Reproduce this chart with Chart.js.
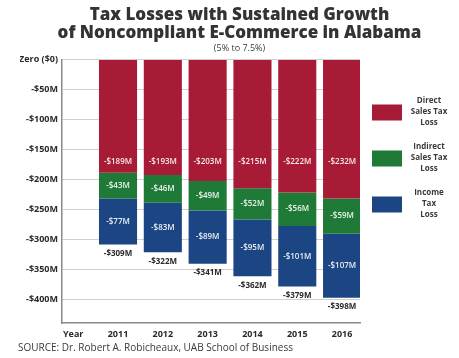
<!DOCTYPE html>
<html>
<head>
<meta charset="utf-8">
<script src="https://cdn.jsdelivr.net/npm/chart.js@4.4.1/dist/chart.umd.min.js"></script>
<style>
  html, body { margin: 0; padding: 0; background: #fff; }
  #wrap { width: 459px; height: 358px; }
</style>
</head>
<body>
<div id="wrap"><canvas id="taxChart"></canvas></div>
<script>
const years = [2011, 2012, 2013, 2014, 2015, 2016];
const directSales = [-189, -193, -203, -215, -222, -232];
const indirectSales = [-43, -46, -49, -52, -56, -59];
const incomeTax = [-77, -83, -89, -95, -101, -107];
const totals = [-309, -322, -341, -362, -379, -398];
const yTicks = [0, -50, -100, -150, -200, -250, -300, -350, -400];
const xTicks = [2010, 2011, 2012, 2013, 2014, 2015, 2016];

const legendText = [
  ['Direct', 'Sales Tax', 'Loss'],
  ['Indirect', 'Sales Tax', 'Loss'],
  ['Income', 'Tax', 'Loss'],
];

const FONT = "'Open Sans', 'DejaVu Sans', sans-serif";

function money(v) {
  return v === 0 ? 'Zero ($0)' : '-$' + Math.abs(v) + 'M';
}

function toPoints(values) {
  return years.map((yr, i) => ({ x: yr, y: values[i] }));
}

// value labels inside bars, totals under bars, legend and source line
const labelPlugin = {
  id: 'labelPlugin',
  afterDatasetsDraw(chart) {
    const ctx = chart.ctx;
    const yScale = chart.scales.y;
    ctx.save();
    ctx.textAlign = 'center';
    ctx.textBaseline = 'middle';
    chart.data.datasets.forEach((ds, i) => {
      const meta = chart.getDatasetMeta(i);
      meta.data.forEach((bar, j) => {
        const top = Math.min(bar.y, bar.base);
        const bottom = Math.max(bar.y, bar.base);
        let y = (top + bottom) / 2;
        // direct sales labels sit on one line in the original
        if (i === 0) y = Math.min(bottom - 11, yScale.getPixelForValue(-170));
        ctx.font = '600 8px ' + FONT;
        ctx.fillStyle = 'rgba(255,255,255,0.9)';
        ctx.fillText(money(ds.data[j].y), bar.x, y);
      });
    });
    const last = chart.getDatasetMeta(chart.data.datasets.length - 1);
    last.data.forEach((bar, j) => {
      ctx.font = 'bold 8px ' + FONT;
      ctx.fillStyle = '#2a2a2a';
      ctx.fillText(money(totals[j]), bar.x, Math.max(bar.y, bar.base) + 9);
    });
    ctx.restore();
  },
  afterDraw(chart) {
    const ctx = chart.ctx;
    const area = chart.chartArea;
    ctx.save();
    chart.data.datasets.forEach((ds, i) => {
      const cy = area.top + 53 + i * 46;
      ctx.fillStyle = ds.backgroundColor;
      ctx.fillRect(area.right + 12, cy - 8, 30, 16);
      ctx.font = 'bold 8px ' + FONT;
      ctx.fillStyle = '#3a3a3a';
      ctx.textAlign = 'center';
      ctx.textBaseline = 'middle';
      legendText[i].forEach((line, k) => {
        ctx.fillText(line, area.right + 69, cy - 12 + k * 11);
      });
    });
    ctx.font = '10px ' + FONT;
    ctx.fillStyle = '#3a3a3a';
    ctx.textAlign = 'left';
    ctx.textBaseline = 'middle';
    ctx.fillText('SOURCE: Dr. Robert A. Robicheaux, UAB School of Business', 18, 348);
    ctx.restore();
  }
};

new Chart(document.getElementById('taxChart'), {
  type: 'bar',
  data: {
    datasets: [
      { label: 'Direct Sales Tax Loss', data: toPoints(directSales), backgroundColor: '#a81b36' },
      { label: 'Indirect Sales Tax Loss', data: toPoints(indirectSales), backgroundColor: '#1f7a37' },
      { label: 'Income Tax Loss', data: toPoints(incomeTax), backgroundColor: '#1c4584' },
    ],
  },
  options: {
    responsive: true,
    maintainAspectRatio: false,
    animation: false,
    barPercentage: 0.85,
    categoryPercentage: 1,
    layout: { padding: { left: 20, right: 0, top: 0, bottom: 15 } },
    plugins: {
      legend: { display: false },
      tooltip: { enabled: false },
      title: {
        display: true,
        text: ['Tax Losses with Sustained Growth', 'of Noncompliant E-Commerce in Alabama'],
        color: '#333333',
        font: { family: FONT, size: 17, weight: 800, lineHeight: 1.05 },
        padding: { top: 6, bottom: 0 },
      },
      subtitle: {
        display: true,
        text: '(5% to 7.5%)',
        color: '#3a3a3a',
        font: { family: FONT, size: 9 },
        padding: { top: 1, bottom: 6 },
      },
    },
    scales: {
      x: {
        type: 'linear',
        stacked: true,
        offset: false,
        min: 2009.75,
        max: 2016.4,
        afterBuildTicks: s => { s.ticks = xTicks.map(v => ({ value: v })); },
        afterFit: s => { s.height = 20; },
        grid: { display: false },
        border: { display: true, color: '#8a8a8a', width: 1.5 },
        ticks: {
          color: '#2a2a2a',
          font: { family: FONT, size: 9, weight: 'bold' },
          padding: -2,
          maxRotation: 0,
          callback: v => (v === 2010 ? 'Year' : String(v)),
        },
      },
      y: {
        stacked: true,
        min: -440,
        max: 0,
        afterBuildTicks: s => { s.ticks = yTicks.map(v => ({ value: v })); },
        afterFit: s => { s.width = 42; },
        grid: { color: '#cfcfcf', lineWidth: 1, drawTicks: false },
        border: { display: true, color: '#8a8a8a', width: 1.5 },
        ticks: {
          color: '#2a2a2a',
          font: { family: FONT, size: 9, weight: 'bold' },
          padding: 4,
          callback: v => money(v),
        },
      },
      yr: {
        position: 'right',
        display: true,
        afterFit: s => { s.width = 99; },
        grid: { display: false },
        border: { display: false },
        ticks: { display: false },
      },
    },
  },
  plugins: [labelPlugin],
});
</script>
</body>
</html>
